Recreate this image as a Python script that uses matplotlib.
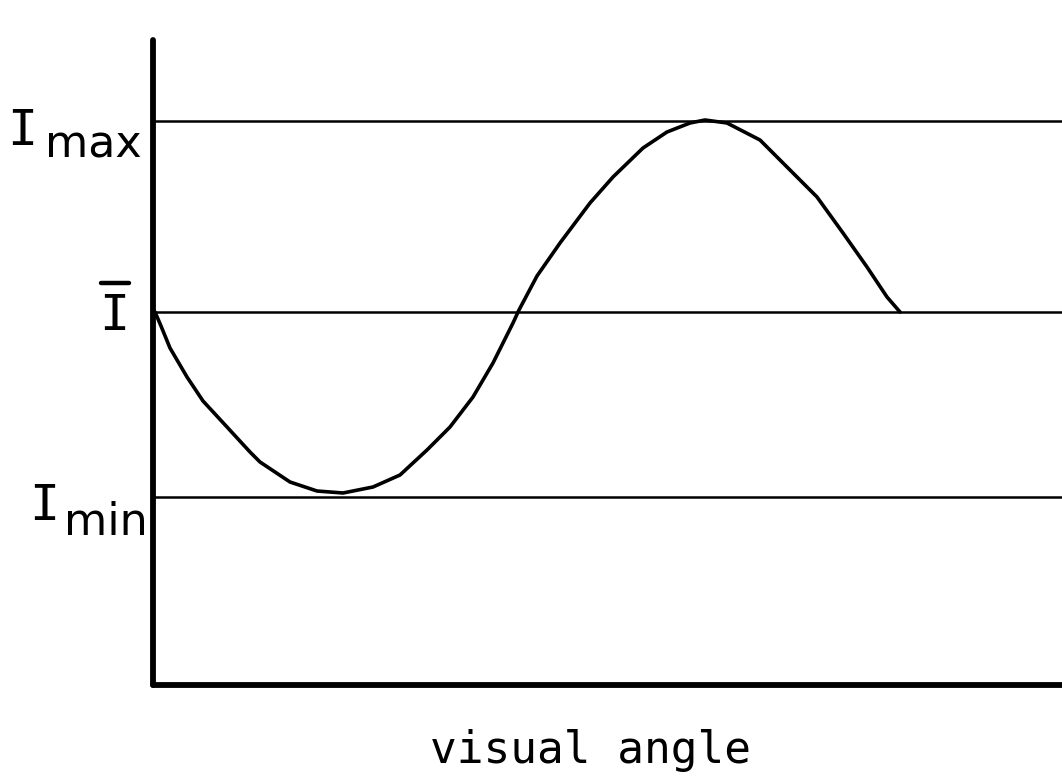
import matplotlib
matplotlib.use("Agg")
import matplotlib.pyplot as plt
from matplotlib.lines import Line2D

# intensity profile (x: visual angle, y: intensity, arbitrary units)
angle = [0, 6, 15, 32, 48, 72, 95, 105, 135, 162, 188, 218, 245, 272, 295,
         318, 338, 358, 364, 382, 405, 435, 458, 488, 512, 535, 550, 572,
         605, 628, 662, 688, 712, 732, 745]
intensity = [373, 359, 337, 308, 284, 258, 233, 223, 203, 194, 192, 198, 210,
             235, 258, 288, 322, 362, 375, 409, 442, 482, 508, 537, 553, 562,
             565, 562, 545, 522, 488, 452, 418, 388, 373]

levels = [564, 373, 188]   # I max, I bar, I min

W, H = 1062, 776
fig = plt.figure(figsize=(W / 100, H / 100), dpi=100)
ax = fig.add_axes([153 / W, (H - 685) / H, 1 - 153 / W, (685 - 40) / H])

for lv in levels:
    ax.axhline(lv, color="black", lw=1.8)
ax.plot(angle, intensity, color="black", lw=2.6,
        solid_capstyle="round", solid_joinstyle="round")

ax.set_xlim(-2, 907)
ax.set_ylim(0, 645)
ax.set_xticks([])
ax.set_yticks([])
for s in ("top", "right"):
    ax.spines[s].set_visible(False)
for s in ("left", "bottom"):
    ax.spines[s].set_linewidth(4.2)
    ax.spines[s].set_capstyle("round")


def ftext(x, y, s, **kw):
    fig.text(x / W, 1 - y / H, s, color="black", **kw)


mono = "DejaVu Sans Mono"
# I max
ftext(22, 145, "I", family=mono, fontsize=36, ha="center", va="baseline")
ftext(93, 158, "max", fontsize=32, ha="center", va="baseline")
# I bar
ftext(114, 330, "I", family=mono, fontsize=36, ha="center", va="baseline")
fig.add_artist(Line2D([101 / W, 129 / W], [1 - 283 / H, 1 - 283 / H],
                      color="black", lw=3.2, solid_capstyle="round"))
# I min
ftext(44, 520, "I", family=mono, fontsize=36, ha="center", va="baseline")
ftext(106, 535, "min", fontsize=32, ha="center", va="baseline")

ftext(590, 763, "visual angle", family=mono, fontsize=32, ha="center", va="baseline")

fig.savefig("out.png", dpi=100)
